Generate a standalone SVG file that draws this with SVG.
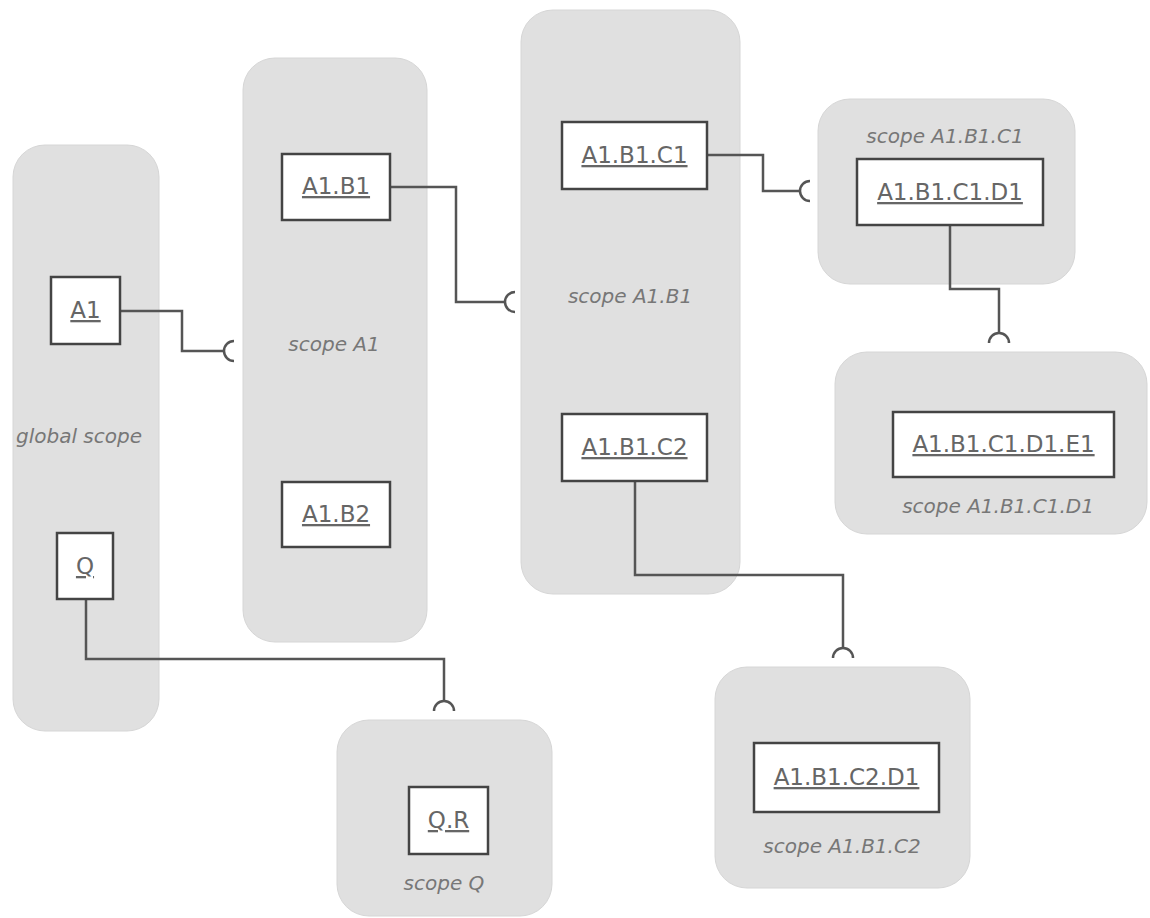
<svg xmlns="http://www.w3.org/2000/svg" width="1150" height="918" viewBox="0 0 1150 918">
<style>
.scope{fill:#e0e0e0;stroke:#d6d6d6;stroke-width:1}
.box{fill:#ffffff;stroke:#444444;stroke-width:2.5}
.lbl{font-family:"DejaVu Sans",sans-serif;font-size:23px;fill:#666666;text-anchor:middle;text-decoration:underline}
.slbl{font-family:"DejaVu Sans",sans-serif;font-size:20px;font-style:italic;fill:#777777;text-anchor:middle}
.con{fill:none;stroke:#555555;stroke-width:2.5}
</style>
<rect width="1150" height="918" fill="#ffffff"/>
<g id="global-scope">
<rect class="scope" x="13" y="145" width="146" height="586" rx="32"/>
<text class="slbl" x="79" y="443" font-size="19">global scope</text>
</g>
<g id="scope-A1">
<rect class="scope" x="243" y="58" width="184" height="584" rx="32"/>
<text class="slbl" x="334" y="351">scope A1</text>
</g>
<g id="scope-A1.B1">
<rect class="scope" x="521" y="10" width="219" height="584" rx="32"/>
<text class="slbl" x="630" y="303">scope A1.B1</text>
</g>
<g id="scope-A1.B1.C1">
<rect class="scope" x="818" y="99" width="257" height="185" rx="32"/>
<text class="slbl" x="945" y="143">scope A1.B1.C1</text>
</g>
<g id="scope-A1.B1.C1.D1">
<rect class="scope" x="835" y="352" width="312" height="182" rx="32"/>
<text class="slbl" x="998" y="513">scope A1.B1.C1.D1</text>
</g>
<g id="scope-A1.B1.C2">
<rect class="scope" x="715" y="667" width="255" height="221" rx="32"/>
<text class="slbl" x="842" y="853">scope A1.B1.C2</text>
</g>
<g id="scope-Q">
<rect class="scope" x="337" y="720" width="215" height="196" rx="32"/>
<text class="slbl" x="444" y="890">scope Q</text>
</g>
<g id="connectors">
<path class="con" d="M120 311 H182 V351 H224"/>
<path class="con" d="M234 341 A10 10 0 0 0 234 361"/>
<path class="con" d="M390 187 H456 V302 H505"/>
<path class="con" d="M515 292 A10 10 0 0 0 515 312"/>
<path class="con" d="M707 155 H763 V191 H800"/>
<path class="con" d="M810 181 A10 10 0 0 0 810 201"/>
<path class="con" d="M950 225 V289 H999 V333"/>
<path class="con" d="M989 343 A10 10 0 0 1 1009 343"/>
<path class="con" d="M635 481 V575 H843 V648"/>
<path class="con" d="M833 658 A10 10 0 0 1 853 658"/>
<path class="con" d="M86 599 V659 H444 V701"/>
<path class="con" d="M434 711 A10 10 0 0 1 454 711"/>
</g>
<g id="A1">
<rect class="box" x="51" y="277" width="69" height="67"/>
<text class="lbl" x="85.5" y="318">A1</text>
</g>
<g id="Q">
<rect class="box" x="57" y="533" width="56" height="66"/>
<text class="lbl" x="85" y="574">Q</text>
</g>
<g id="A1.B1">
<rect class="box" x="282" y="154" width="108" height="66"/>
<text class="lbl" x="336" y="194">A1.B1</text>
</g>
<g id="A1.B2">
<rect class="box" x="282" y="482" width="108" height="65"/>
<text class="lbl" x="336" y="522">A1.B2</text>
</g>
<g id="A1.B1.C1">
<rect class="box" x="562" y="122" width="145" height="67"/>
<text class="lbl" x="634.5" y="163">A1.B1.C1</text>
</g>
<g id="A1.B1.C2">
<rect class="box" x="562" y="414" width="145" height="67"/>
<text class="lbl" x="634.5" y="455">A1.B1.C2</text>
</g>
<g id="A1.B1.C1.D1">
<rect class="box" x="857" y="159" width="186" height="66"/>
<text class="lbl" x="950" y="200">A1.B1.C1.D1</text>
</g>
<g id="A1.B1.C1.D1.E1">
<rect class="box" x="893" y="412" width="221" height="65"/>
<text class="lbl" x="1003.5" y="452">A1.B1.C1.D1.E1</text>
</g>
<g id="A1.B1.C2.D1">
<rect class="box" x="754" y="743" width="185" height="69"/>
<text class="lbl" x="846.5" y="785">A1.B1.C2.D1</text>
</g>
<g id="Q.R">
<rect class="box" x="409" y="787" width="79" height="67"/>
<text class="lbl" x="448.5" y="828">Q.R</text>
</g>
</svg>
